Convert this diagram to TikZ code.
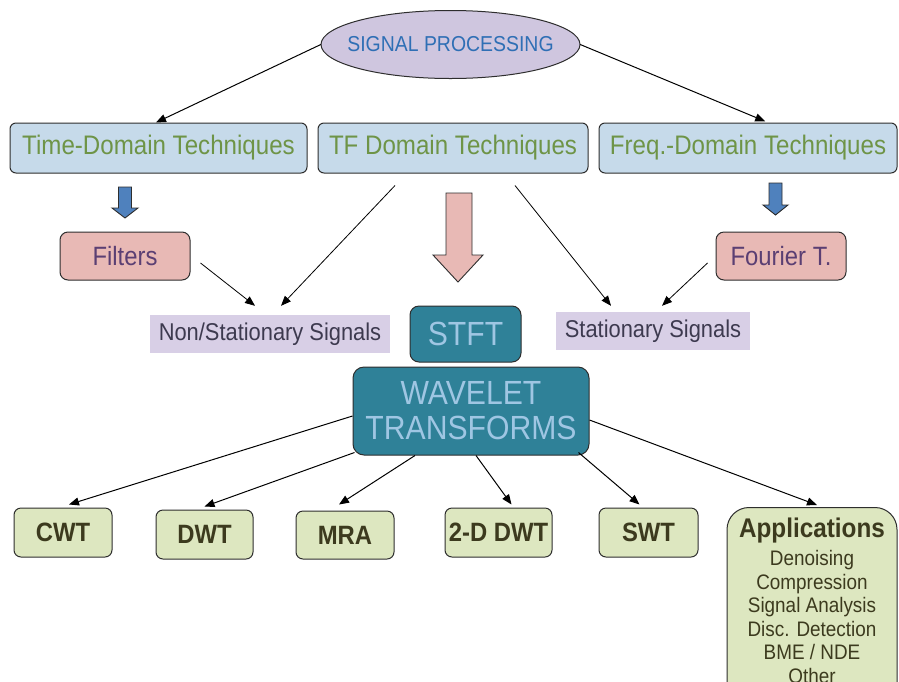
\documentclass[tikz,border=0pt]{standalone}
\usepackage{fontspec}
\setmainfont{Liberation Sans}[FakeStretch=0.9]
\usetikzlibrary{arrows.meta,shapes.geometric}
\definecolor{elfill}{HTML}{CFC6DF}
\definecolor{sptext}{HTML}{2F6FB5}
\definecolor{topfill}{HTML}{C6DAEA}
\definecolor{toptext}{HTML}{6E9447}
\definecolor{pinkfill}{HTML}{E8B9B5}
\definecolor{pinktext}{HTML}{5B3F73}
\definecolor{lavfill}{HTML}{D8CFE6}
\definecolor{lavtext}{HTML}{3D3A4F}
\definecolor{tealfill}{HTML}{2F8198}
\definecolor{tealtext}{HTML}{9FC6E3}
\definecolor{greenfill}{HTML}{DDE7C0}
\definecolor{greentext}{HTML}{3C3A1E}
\definecolor{bluearr}{HTML}{4F81BD}
\definecolor{edge}{HTML}{2E2E2E}
\tikzset{
  topbox/.style={draw=edge, line width=1pt, fill=topfill, rounded corners=6pt, minimum height=50pt, inner sep=0pt, text=toptext, font=\fontsize{26.8}{28}\selectfont},
  pinkbox/.style={draw=edge, line width=1pt, fill=pinkfill, rounded corners=8pt, minimum width=130pt, minimum height=48pt, inner sep=0pt, text=pinktext, font=\fontsize{26.5}{28}\selectfont},
  lavbox/.style={fill=lavfill, minimum height=38pt, inner sep=0pt, text=lavtext, font=\fontsize{24.3}{26}\selectfont},
  tealbox/.style={draw=edge, line width=1pt, fill=tealfill, rounded corners=9pt, inner sep=0pt, text=tealtext, font=\fontsize{33.5}{36}\selectfont, align=center},
  leafbox/.style={draw=edge, line width=1pt, fill=greenfill, rounded corners=7pt, minimum height=49pt, inner sep=0pt, text=greentext, font=\bfseries\fontsize{26.5}{28}\selectfont},
  arr/.style={draw=black, line width=1pt, -{Triangle[length=10pt,width=8pt]}},
  thin arr/.style={draw=black, line width=0.8pt, -{Triangle[length=10pt,width=8pt]}},
  blockarr/.style={draw=edge, line width=0.9pt}
}
\begin{document}
\begin{tikzpicture}[x=1pt,y=-1pt]
\clip (0,0) rectangle (899,681);
\fill[white] (0,0) rectangle (899,681);
% root: invisible rectangle of the ellipse's size, ellipse drawn round it
\fill[elfill, draw=edge, line width=1pt] (450.5,44.5) ellipse [x radius=129.5pt, y radius=34pt];
\node[minimum width=259pt, minimum height=68pt, inner sep=0pt, text=sptext, font=\fontsize{21.6}{24}\selectfont] (sp) at (450.5,44.5) {SIGNAL PROCESSING};
% top boxes
\node[topbox, minimum width=297pt] (time) at (158.5,148) {Time-Domain Techniques};
\node[topbox, minimum width=270pt] (tf) at (453,148) {TF Domain Techniques};
\node[topbox, minimum width=298pt] (freq) at (748,148) {Freq.-Domain Techniques};
% second level
\node[pinkbox] (filters) at (125,256) {Filters};
\node[pinkbox] (fourier) at (781,256) {Fourier T.};
\node[lavbox, minimum width=240pt] (nonstat) at (270,334) {Non/Stationary Signals};
\node[lavbox, minimum width=194pt] (stat) at (653,331) {Stationary Signals};
\node[tealbox, minimum width=111pt, minimum height=56pt] (stft) at (465.5,334) {STFT};
\node[tealbox, minimum width=236pt, minimum height=88pt, rounded corners=11pt] (wave) at (471,411) {WAVELET\\[-1pt]TRANSFORMS};
% leaves
\node[leafbox, minimum width=98pt] (cwt) at (63,532.5) {CWT};
\node[leafbox, minimum width=97pt] (dwt) at (204.5,534.5) {DWT};
\node[leafbox, minimum width=98pt, minimum height=48pt] (mra) at (345,535) {MRA};
\node[leafbox, minimum width=107pt] (twod) at (498.5,532.5) {2-D DWT};
\node[leafbox, minimum width=99pt] (swt) at (648.5,532.5) {SWT};
\node[draw=edge, line width=1pt, fill=greenfill, rounded corners=22pt, minimum width=170pt, inner xsep=0pt, inner ysep=10pt, anchor=north, text=greentext, align=center, font=\fontsize{21}{23.5}\selectfont] (apps) at (812,507)
  {{\bfseries\fontsize{27}{30}\selectfont Applications}\\[5pt]Denoising\\Compression\\Signal Analysis\\Disc. Detection\\BME / NDE\\Other\\[30pt]};
% block arrows
\path[blockarr, fill=bluearr] (118.5,187) -- (131.5,187) -- (131.5,208) -- (138,208) -- (125,218) -- (112,208) -- (118.5,208) -- cycle;
\path[blockarr, fill=bluearr] (769,183) -- (782,183) -- (782,205) -- (788,205) -- (775.5,215) -- (763,205) -- (769,205) -- cycle;
\path[blockarr, fill=pinkfill] (446,193) -- (472,193) -- (472,255) -- (483,255) -- (458,282) -- (433,255) -- (446,255) -- cycle;
% connectors
\draw[arr] (sp.west) -- ([xshift=-2.5pt]time.north);
\draw[arr, shorten >=3pt] (sp.east) -- ([xshift=20pt]freq.north);
\draw[thin arr] ([xshift=-58pt,yshift=-12pt]tf.south) -- ([xshift=11pt,yshift=9pt]nonstat.north);
\draw[thin arr] ([xshift=10pt,yshift=-7pt]filters.east) -- ([xshift=-15pt,yshift=9pt]nonstat.north);
\draw[thin arr] ([xshift=62pt,yshift=-12pt]tf.south) -- ([xshift=-42pt,yshift=6pt]stat.north);
\draw[thin arr] ([xshift=-8pt,yshift=-7pt]fourier.west) -- ([xshift=9pt,yshift=6pt]stat.north);
\draw[arr] ([yshift=-5pt]wave.west) -- ([xshift=6pt,yshift=3pt]cwt.north);
\draw[arr] ([xshift=2pt,yshift=3pt]wave.south west) -- ([yshift=3pt]dwt.north);
\draw[arr] ([xshift=-56pt]wave.south) -- ([xshift=-6pt,yshift=6pt]mra.north);
\draw[arr] ([xshift=5pt]wave.south) -- ([xshift=13pt,yshift=3pt]twod.north);
\draw[arr] ([xshift=-11pt,yshift=3pt]wave.south east) -- ([xshift=-9pt,yshift=3pt]swt.north);
\draw[arr] ([yshift=-9pt]wave.east) -- ([xshift=5pt,yshift=2pt]apps.north);
\end{tikzpicture}
\end{document}
